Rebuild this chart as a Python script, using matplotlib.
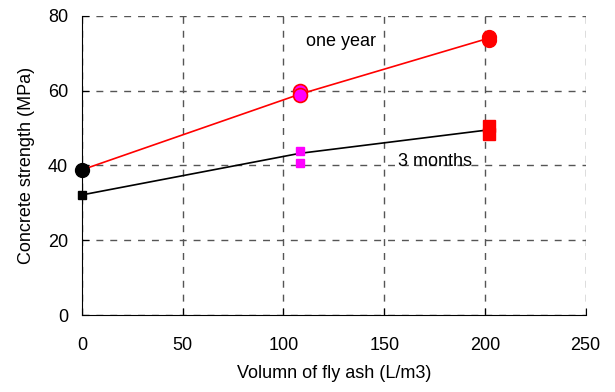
import matplotlib.pyplot as plt

plt.rcParams['font.family'] = ['Liberation Sans', 'DejaVu Sans']

# fitted lines (through means)
line_x = [0, 108, 202]
year_line = [38.8, 59.0, 74.0]
months_line = [32.1, 43.2, 49.5]

# control mix (0 fly ash)
ctrl_x = [0]
ctrl_year = [38.8]
ctrl_months = [32.1]

# 108 L/m3 mixes
mid_x = [108, 108]
mid_year = [59.9, 58.8]
mid_months = [43.9, 40.6]

# 202 L/m3 mixes
high_x = [202, 202]
high_year = [74.4, 73.6]
high_months = [50.6, 48.3]

fig = plt.figure(figsize=(6.15, 3.92), dpi=100)
ax = fig.add_axes([0.1333, 0.1964, 0.819, 0.7636])

ax.plot(line_x, year_line, color='red', lw=1.2, zorder=3)
ax.plot(line_x, months_line, color='black', lw=1.2, zorder=3)

ax.plot(ctrl_x, ctrl_year, 'o', color='black', ms=10, zorder=4, clip_on=False)
ax.plot(ctrl_x, ctrl_months, 's', color='black', ms=6, zorder=4, clip_on=False)
ax.plot(mid_x, mid_year, 'o', mfc='magenta', mec='red', mew=1.2, ms=10, ls='none', zorder=4)
ax.plot(mid_x, mid_months, 's', color='magenta', ms=5.5, ls='none', zorder=4)
ax.plot(high_x, high_year, 'o', color='red', ms=10, ls='none', zorder=4)
ax.plot(high_x, high_months, 's', color='red', ms=8.5, ls='none', zorder=4)

ax.text(111, 73, 'one year', fontsize=13, va='center', ha='left')
ax.text(157, 41, '3 months', fontsize=13, va='center', ha='left')

ax.set_xlim(0, 250)
ax.set_ylim(0, 80)
ax.set_xticks([0, 50, 100, 150, 200, 250])
ax.set_yticks([0, 20, 40, 60, 80])
ax.grid(True, color='#555555', ls=(0, (5, 5)), lw=1)
ax.spines['top'].set_visible(False)
ax.spines['right'].set_visible(False)
ax.tick_params(axis='x', direction='in', length=5, pad=16, labelsize=13)
ax.tick_params(axis='y', direction='in', length=5, pad=10, labelsize=13)
ax.set_xlabel('Volumn of fly ash (L/m3)', fontsize=13, labelpad=8)
ax.set_ylabel('Concrete strength (MPa)', fontsize=13, labelpad=9)

fig.savefig('out.png', dpi=100)
